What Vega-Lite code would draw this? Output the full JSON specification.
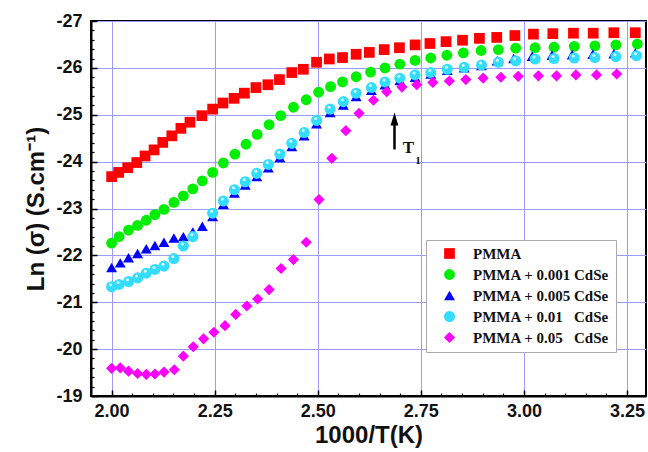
{
  "$schema": "https://vega.github.io/schema/vega-lite/v6.json",
  "width": 555,
  "height": 375,
  "autosize": {"type": "none"},
  "padding": {"left": 91, "top": 21, "right": 2, "bottom": 56},
  "background": "white",
  "config": {
    "view": {"stroke": "black", "strokeWidth": 2},
    "axis": {
      "labelFont": "Liberation Sans",
      "labelFontWeight": "bold",
      "labelFontSize": 18,
      "labelColor": "#111",
      "titleFont": "Liberation Sans",
      "titleFontWeight": "bold",
      "titleFontSize": 24,
      "titleColor": "#111",
      "domainColor": "black",
      "domainWidth": 2,
      "tickColor": "black",
      "tickWidth": 1.5,
      "gridColor": "#9a9aff",
      "gridOpacity": 1,
      "gridWidth": 1
    },
    "legend": {
      "orient": "none",
      "legendX": 335,
      "legendY": 219,
      "fillColor": "white",
      "strokeColor": "#aaaaaa",
      "padding": 6,
      "symbolOffset": 10,
      "labelOffset": 16,
      "labelFont": "Liberation Serif",
      "labelFontWeight": "bold",
      "labelFontSize": 15,
      "labelColor": "#111",
      "labelLimit": 300,
      "rowPadding": 5,
      "symbolSize": 100,
      "symbolStrokeWidth": 0
    }
  },
  "datasets": {
    "pts": [
      {"s": "PMMA", "x": 2.0, "y": -23.68},
      {"s": "PMMA", "x": 2.017, "y": -23.77},
      {"s": "PMMA", "x": 2.039, "y": -23.87},
      {"s": "PMMA", "x": 2.061, "y": -23.98},
      {"s": "PMMA", "x": 2.081, "y": -24.12},
      {"s": "PMMA", "x": 2.103, "y": -24.25},
      {"s": "PMMA", "x": 2.124, "y": -24.41},
      {"s": "PMMA", "x": 2.146, "y": -24.55},
      {"s": "PMMA", "x": 2.168, "y": -24.71},
      {"s": "PMMA", "x": 2.19, "y": -24.84},
      {"s": "PMMA", "x": 2.219, "y": -24.98},
      {"s": "PMMA", "x": 2.245, "y": -25.12},
      {"s": "PMMA", "x": 2.27, "y": -25.25},
      {"s": "PMMA", "x": 2.297, "y": -25.35},
      {"s": "PMMA", "x": 2.322, "y": -25.46},
      {"s": "PMMA", "x": 2.35, "y": -25.58},
      {"s": "PMMA", "x": 2.379, "y": -25.64},
      {"s": "PMMA", "x": 2.407, "y": -25.75},
      {"s": "PMMA", "x": 2.437, "y": -25.9},
      {"s": "PMMA", "x": 2.465, "y": -25.97},
      {"s": "PMMA", "x": 2.497, "y": -26.12},
      {"s": "PMMA", "x": 2.528, "y": -26.19},
      {"s": "PMMA", "x": 2.56, "y": -26.22},
      {"s": "PMMA", "x": 2.593, "y": -26.29},
      {"s": "PMMA", "x": 2.625, "y": -26.33},
      {"s": "PMMA", "x": 2.661, "y": -26.39},
      {"s": "PMMA", "x": 2.698, "y": -26.43},
      {"s": "PMMA", "x": 2.736, "y": -26.49},
      {"s": "PMMA", "x": 2.772, "y": -26.52},
      {"s": "PMMA", "x": 2.811, "y": -26.56},
      {"s": "PMMA", "x": 2.851, "y": -26.59},
      {"s": "PMMA", "x": 2.892, "y": -26.63},
      {"s": "PMMA", "x": 2.934, "y": -26.65},
      {"s": "PMMA", "x": 2.978, "y": -26.69},
      {"s": "PMMA", "x": 3.023, "y": -26.72},
      {"s": "PMMA", "x": 3.07, "y": -26.73},
      {"s": "PMMA", "x": 3.12, "y": -26.74},
      {"s": "PMMA", "x": 3.168, "y": -26.74},
      {"s": "PMMA", "x": 3.218, "y": -26.75},
      {"s": "PMMA", "x": 3.27, "y": -26.75},

      {"s": "PMMA + 0.001 CdSe", "x": 2.0, "y": -22.26},
      {"s": "PMMA + 0.001 CdSe", "x": 2.018, "y": -22.4},
      {"s": "PMMA + 0.001 CdSe", "x": 2.041, "y": -22.54},
      {"s": "PMMA + 0.001 CdSe", "x": 2.063, "y": -22.64},
      {"s": "PMMA + 0.001 CdSe", "x": 2.084, "y": -22.75},
      {"s": "PMMA + 0.001 CdSe", "x": 2.105, "y": -22.87},
      {"s": "PMMA + 0.001 CdSe", "x": 2.127, "y": -22.98},
      {"s": "PMMA + 0.001 CdSe", "x": 2.151, "y": -23.13},
      {"s": "PMMA + 0.001 CdSe", "x": 2.174, "y": -23.27},
      {"s": "PMMA + 0.001 CdSe", "x": 2.197, "y": -23.42},
      {"s": "PMMA + 0.001 CdSe", "x": 2.22, "y": -23.59},
      {"s": "PMMA + 0.001 CdSe", "x": 2.245, "y": -23.77},
      {"s": "PMMA + 0.001 CdSe", "x": 2.271, "y": -23.97},
      {"s": "PMMA + 0.001 CdSe", "x": 2.299, "y": -24.16},
      {"s": "PMMA + 0.001 CdSe", "x": 2.326, "y": -24.37},
      {"s": "PMMA + 0.001 CdSe", "x": 2.353, "y": -24.58},
      {"s": "PMMA + 0.001 CdSe", "x": 2.382, "y": -24.79},
      {"s": "PMMA + 0.001 CdSe", "x": 2.41, "y": -24.98},
      {"s": "PMMA + 0.001 CdSe", "x": 2.441, "y": -25.16},
      {"s": "PMMA + 0.001 CdSe", "x": 2.472, "y": -25.32},
      {"s": "PMMA + 0.001 CdSe", "x": 2.502, "y": -25.48},
      {"s": "PMMA + 0.001 CdSe", "x": 2.531, "y": -25.6},
      {"s": "PMMA + 0.001 CdSe", "x": 2.56, "y": -25.7},
      {"s": "PMMA + 0.001 CdSe", "x": 2.593, "y": -25.81},
      {"s": "PMMA + 0.001 CdSe", "x": 2.628, "y": -25.91},
      {"s": "PMMA + 0.001 CdSe", "x": 2.663, "y": -26.0},
      {"s": "PMMA + 0.001 CdSe", "x": 2.699, "y": -26.08},
      {"s": "PMMA + 0.001 CdSe", "x": 2.736, "y": -26.16},
      {"s": "PMMA + 0.001 CdSe", "x": 2.774, "y": -26.21},
      {"s": "PMMA + 0.001 CdSe", "x": 2.813, "y": -26.27},
      {"s": "PMMA + 0.001 CdSe", "x": 2.853, "y": -26.32},
      {"s": "PMMA + 0.001 CdSe", "x": 2.896, "y": -26.37},
      {"s": "PMMA + 0.001 CdSe", "x": 2.938, "y": -26.39},
      {"s": "PMMA + 0.001 CdSe", "x": 2.98, "y": -26.42},
      {"s": "PMMA + 0.001 CdSe", "x": 3.027, "y": -26.43},
      {"s": "PMMA + 0.001 CdSe", "x": 3.073, "y": -26.44},
      {"s": "PMMA + 0.001 CdSe", "x": 3.122, "y": -26.46},
      {"s": "PMMA + 0.001 CdSe", "x": 3.172, "y": -26.47},
      {"s": "PMMA + 0.001 CdSe", "x": 3.223, "y": -26.49},
      {"s": "PMMA + 0.001 CdSe", "x": 3.275, "y": -26.51},

      {"s": "PMMA + 0.005 CdSe", "x": 2.0, "y": -21.74},
      {"s": "PMMA + 0.005 CdSe", "x": 2.021, "y": -21.84},
      {"s": "PMMA + 0.005 CdSe", "x": 2.041, "y": -21.95},
      {"s": "PMMA + 0.005 CdSe", "x": 2.063, "y": -22.04},
      {"s": "PMMA + 0.005 CdSe", "x": 2.084, "y": -22.14},
      {"s": "PMMA + 0.005 CdSe", "x": 2.105, "y": -22.21},
      {"s": "PMMA + 0.005 CdSe", "x": 2.127, "y": -22.28},
      {"s": "PMMA + 0.005 CdSe", "x": 2.151, "y": -22.37},
      {"s": "PMMA + 0.005 CdSe", "x": 2.174, "y": -22.4},
      {"s": "PMMA + 0.005 CdSe", "x": 2.197, "y": -22.5},
      {"s": "PMMA + 0.005 CdSe", "x": 2.22, "y": -22.62},
      {"s": "PMMA + 0.005 CdSe", "x": 2.245, "y": -22.83},
      {"s": "PMMA + 0.005 CdSe", "x": 2.271, "y": -23.09},
      {"s": "PMMA + 0.005 CdSe", "x": 2.298, "y": -23.33},
      {"s": "PMMA + 0.005 CdSe", "x": 2.324, "y": -23.5},
      {"s": "PMMA + 0.005 CdSe", "x": 2.352, "y": -23.68},
      {"s": "PMMA + 0.005 CdSe", "x": 2.38, "y": -23.87},
      {"s": "PMMA + 0.005 CdSe", "x": 2.408, "y": -24.09},
      {"s": "PMMA + 0.005 CdSe", "x": 2.437, "y": -24.32},
      {"s": "PMMA + 0.005 CdSe", "x": 2.467, "y": -24.55},
      {"s": "PMMA + 0.005 CdSe", "x": 2.497, "y": -24.81},
      {"s": "PMMA + 0.005 CdSe", "x": 2.53, "y": -25.05},
      {"s": "PMMA + 0.005 CdSe", "x": 2.562, "y": -25.21},
      {"s": "PMMA + 0.005 CdSe", "x": 2.593, "y": -25.39},
      {"s": "PMMA + 0.005 CdSe", "x": 2.63, "y": -25.52},
      {"s": "PMMA + 0.005 CdSe", "x": 2.663, "y": -25.64},
      {"s": "PMMA + 0.005 CdSe", "x": 2.699, "y": -25.73},
      {"s": "PMMA + 0.005 CdSe", "x": 2.736, "y": -25.8},
      {"s": "PMMA + 0.005 CdSe", "x": 2.774, "y": -25.87},
      {"s": "PMMA + 0.005 CdSe", "x": 2.814, "y": -25.95},
      {"s": "PMMA + 0.005 CdSe", "x": 2.855, "y": -26.0},
      {"s": "PMMA + 0.005 CdSe", "x": 2.897, "y": -26.05},
      {"s": "PMMA + 0.005 CdSe", "x": 2.935, "y": -26.15},
      {"s": "PMMA + 0.005 CdSe", "x": 2.975, "y": -26.2},
      {"s": "PMMA + 0.005 CdSe", "x": 3.02, "y": -26.25},
      {"s": "PMMA + 0.005 CdSe", "x": 3.068, "y": -26.27},
      {"s": "PMMA + 0.005 CdSe", "x": 3.117, "y": -26.28},
      {"s": "PMMA + 0.005 CdSe", "x": 3.167, "y": -26.29},
      {"s": "PMMA + 0.005 CdSe", "x": 3.218, "y": -26.3},
      {"s": "PMMA + 0.005 CdSe", "x": 3.27, "y": -26.32},

      {"s": "PMMA + 0.01\u00a0\u00a0\u00a0CdSe", "x": 2.0, "y": -21.33},
      {"s": "PMMA + 0.01\u00a0\u00a0\u00a0CdSe", "x": 2.018, "y": -21.38},
      {"s": "PMMA + 0.01\u00a0\u00a0\u00a0CdSe", "x": 2.041, "y": -21.44},
      {"s": "PMMA + 0.01\u00a0\u00a0\u00a0CdSe", "x": 2.063, "y": -21.52},
      {"s": "PMMA + 0.01\u00a0\u00a0\u00a0CdSe", "x": 2.084, "y": -21.62},
      {"s": "PMMA + 0.01\u00a0\u00a0\u00a0CdSe", "x": 2.105, "y": -21.7},
      {"s": "PMMA + 0.01\u00a0\u00a0\u00a0CdSe", "x": 2.127, "y": -21.77},
      {"s": "PMMA + 0.01\u00a0\u00a0\u00a0CdSe", "x": 2.151, "y": -21.93},
      {"s": "PMMA + 0.01\u00a0\u00a0\u00a0CdSe", "x": 2.174, "y": -22.2},
      {"s": "PMMA + 0.01\u00a0\u00a0\u00a0CdSe", "x": 2.197, "y": -22.4},
      {"s": "PMMA + 0.01\u00a0\u00a0\u00a0CdSe", "x": 2.245, "y": -22.9},
      {"s": "PMMA + 0.01\u00a0\u00a0\u00a0CdSe", "x": 2.271, "y": -23.16},
      {"s": "PMMA + 0.01\u00a0\u00a0\u00a0CdSe", "x": 2.298, "y": -23.4},
      {"s": "PMMA + 0.01\u00a0\u00a0\u00a0CdSe", "x": 2.324, "y": -23.57},
      {"s": "PMMA + 0.01\u00a0\u00a0\u00a0CdSe", "x": 2.352, "y": -23.75},
      {"s": "PMMA + 0.01\u00a0\u00a0\u00a0CdSe", "x": 2.38, "y": -23.94},
      {"s": "PMMA + 0.01\u00a0\u00a0\u00a0CdSe", "x": 2.408, "y": -24.16},
      {"s": "PMMA + 0.01\u00a0\u00a0\u00a0CdSe", "x": 2.437, "y": -24.39},
      {"s": "PMMA + 0.01\u00a0\u00a0\u00a0CdSe", "x": 2.467, "y": -24.62},
      {"s": "PMMA + 0.01\u00a0\u00a0\u00a0CdSe", "x": 2.497, "y": -24.88},
      {"s": "PMMA + 0.01\u00a0\u00a0\u00a0CdSe", "x": 2.53, "y": -25.12},
      {"s": "PMMA + 0.01\u00a0\u00a0\u00a0CdSe", "x": 2.562, "y": -25.28},
      {"s": "PMMA + 0.01\u00a0\u00a0\u00a0CdSe", "x": 2.593, "y": -25.46},
      {"s": "PMMA + 0.01\u00a0\u00a0\u00a0CdSe", "x": 2.63, "y": -25.58},
      {"s": "PMMA + 0.01\u00a0\u00a0\u00a0CdSe", "x": 2.663, "y": -25.7},
      {"s": "PMMA + 0.01\u00a0\u00a0\u00a0CdSe", "x": 2.699, "y": -25.78},
      {"s": "PMMA + 0.01\u00a0\u00a0\u00a0CdSe", "x": 2.736, "y": -25.85},
      {"s": "PMMA + 0.01\u00a0\u00a0\u00a0CdSe", "x": 2.774, "y": -25.9},
      {"s": "PMMA + 0.01\u00a0\u00a0\u00a0CdSe", "x": 2.814, "y": -25.97},
      {"s": "PMMA + 0.01\u00a0\u00a0\u00a0CdSe", "x": 2.855, "y": -26.01},
      {"s": "PMMA + 0.01\u00a0\u00a0\u00a0CdSe", "x": 2.897, "y": -26.06},
      {"s": "PMMA + 0.01\u00a0\u00a0\u00a0CdSe", "x": 2.938, "y": -26.12},
      {"s": "PMMA + 0.01\u00a0\u00a0\u00a0CdSe", "x": 2.98, "y": -26.15},
      {"s": "PMMA + 0.01\u00a0\u00a0\u00a0CdSe", "x": 3.027, "y": -26.19},
      {"s": "PMMA + 0.01\u00a0\u00a0\u00a0CdSe", "x": 3.073, "y": -26.2},
      {"s": "PMMA + 0.01\u00a0\u00a0\u00a0CdSe", "x": 3.122, "y": -26.21},
      {"s": "PMMA + 0.01\u00a0\u00a0\u00a0CdSe", "x": 3.172, "y": -26.22},
      {"s": "PMMA + 0.01\u00a0\u00a0\u00a0CdSe", "x": 3.223, "y": -26.24},
      {"s": "PMMA + 0.01\u00a0\u00a0\u00a0CdSe", "x": 3.273, "y": -26.26},

      {"s": "PMMA + 0.05\u00a0\u00a0\u00a0CdSe", "x": 2.0, "y": -19.59},
      {"s": "PMMA + 0.05\u00a0\u00a0\u00a0CdSe", "x": 2.021, "y": -19.6},
      {"s": "PMMA + 0.05\u00a0\u00a0\u00a0CdSe", "x": 2.041, "y": -19.53},
      {"s": "PMMA + 0.05\u00a0\u00a0\u00a0CdSe", "x": 2.063, "y": -19.48},
      {"s": "PMMA + 0.05\u00a0\u00a0\u00a0CdSe", "x": 2.084, "y": -19.46},
      {"s": "PMMA + 0.05\u00a0\u00a0\u00a0CdSe", "x": 2.105, "y": -19.47},
      {"s": "PMMA + 0.05\u00a0\u00a0\u00a0CdSe", "x": 2.127, "y": -19.51},
      {"s": "PMMA + 0.05\u00a0\u00a0\u00a0CdSe", "x": 2.152, "y": -19.56},
      {"s": "PMMA + 0.05\u00a0\u00a0\u00a0CdSe", "x": 2.174, "y": -19.85},
      {"s": "PMMA + 0.05\u00a0\u00a0\u00a0CdSe", "x": 2.198, "y": -20.05},
      {"s": "PMMA + 0.05\u00a0\u00a0\u00a0CdSe", "x": 2.223, "y": -20.22},
      {"s": "PMMA + 0.05\u00a0\u00a0\u00a0CdSe", "x": 2.248, "y": -20.36},
      {"s": "PMMA + 0.05\u00a0\u00a0\u00a0CdSe", "x": 2.275, "y": -20.5},
      {"s": "PMMA + 0.05\u00a0\u00a0\u00a0CdSe", "x": 2.301, "y": -20.74},
      {"s": "PMMA + 0.05\u00a0\u00a0\u00a0CdSe", "x": 2.328, "y": -20.92},
      {"s": "PMMA + 0.05\u00a0\u00a0\u00a0CdSe", "x": 2.354, "y": -21.07},
      {"s": "PMMA + 0.05\u00a0\u00a0\u00a0CdSe", "x": 2.382, "y": -21.27},
      {"s": "PMMA + 0.05\u00a0\u00a0\u00a0CdSe", "x": 2.411, "y": -21.72},
      {"s": "PMMA + 0.05\u00a0\u00a0\u00a0CdSe", "x": 2.441, "y": -21.91},
      {"s": "PMMA + 0.05\u00a0\u00a0\u00a0CdSe", "x": 2.472, "y": -22.28},
      {"s": "PMMA + 0.05\u00a0\u00a0\u00a0CdSe", "x": 2.503, "y": -23.19},
      {"s": "PMMA + 0.05\u00a0\u00a0\u00a0CdSe", "x": 2.534, "y": -24.07},
      {"s": "PMMA + 0.05\u00a0\u00a0\u00a0CdSe", "x": 2.568, "y": -24.66},
      {"s": "PMMA + 0.05\u00a0\u00a0\u00a0CdSe", "x": 2.6, "y": -25.03},
      {"s": "PMMA + 0.05\u00a0\u00a0\u00a0CdSe", "x": 2.635, "y": -25.31},
      {"s": "PMMA + 0.05\u00a0\u00a0\u00a0CdSe", "x": 2.667, "y": -25.49},
      {"s": "PMMA + 0.05\u00a0\u00a0\u00a0CdSe", "x": 2.704, "y": -25.59},
      {"s": "PMMA + 0.05\u00a0\u00a0\u00a0CdSe", "x": 2.74, "y": -25.64},
      {"s": "PMMA + 0.05\u00a0\u00a0\u00a0CdSe", "x": 2.779, "y": -25.69},
      {"s": "PMMA + 0.05\u00a0\u00a0\u00a0CdSe", "x": 2.819, "y": -25.72},
      {"s": "PMMA + 0.05\u00a0\u00a0\u00a0CdSe", "x": 2.859, "y": -25.75},
      {"s": "PMMA + 0.05\u00a0\u00a0\u00a0CdSe", "x": 2.901, "y": -25.78},
      {"s": "PMMA + 0.05\u00a0\u00a0\u00a0CdSe", "x": 2.944, "y": -25.8},
      {"s": "PMMA + 0.05\u00a0\u00a0\u00a0CdSe", "x": 2.986, "y": -25.82},
      {"s": "PMMA + 0.05\u00a0\u00a0\u00a0CdSe", "x": 3.035, "y": -25.83},
      {"s": "PMMA + 0.05\u00a0\u00a0\u00a0CdSe", "x": 3.079, "y": -25.83},
      {"s": "PMMA + 0.05\u00a0\u00a0\u00a0CdSe", "x": 3.126, "y": -25.85},
      {"s": "PMMA + 0.05\u00a0\u00a0\u00a0CdSe", "x": 3.176, "y": -25.85},
      {"s": "PMMA + 0.05\u00a0\u00a0\u00a0CdSe", "x": 3.225, "y": -25.87}
    ],
    "arrow": [{"x": 2.686, "y": -24.26, "y2": -24.85}],
    "head": [{"x": 2.686, "y": -24.91}],
    "lab": [{"x": 2.72, "y": -24.3, "t": "T"}],
    "sub": [{"x": 2.743, "y": -24.01, "t": "1"}]
  },
  "layer": [
    {
      "data": {"name": "pts"},
      "mark": {"type": "point", "filled": true, "opacity": 1},
      "encoding": {
        "x": {
          "field": "x", "type": "quantitative",
          "scale": {"domain": [1.95, 3.296], "nice": false, "zero": false},
          "axis": {
            "orient": "bottom",
            "values": [2, 2.25, 2.5, 2.75, 3, 3.25],
            "format": ".2f",
            "grid": true,
            "tickSize": -6,
            "labelPadding": 12,
            "title": "1000/T(K)",
            "titlePadding": 3
          }
        },
        "y": {
          "field": "y", "type": "quantitative",
          "scale": {"domain": [-27, -19], "reverse": true, "nice": false, "zero": false},
          "axis": {
            "orient": "left",
            "values": [-27, -26, -25, -24, -23, -22, -21, -20, -19],
            "labelExpr": "'' + datum.value",
            "grid": true,
            "tickSize": -6,
            "labelPadding": 15,
            "title": "Ln (σ) (S.cm⁻¹)",
            "titlePadding": 7
          }
        },
        "color": {
          "field": "s", "type": "nominal",
          "scale": {
            "domain": ["PMMA", "PMMA + 0.001 CdSe", "PMMA + 0.005 CdSe", "PMMA + 0.01\u00a0\u00a0\u00a0CdSe", "PMMA + 0.05\u00a0\u00a0\u00a0CdSe"],
            "range": ["#ff0000", "#00ee00", "#0000ff", "#33ddff", "#ff00ff"]
          },
          "legend": {"title": null}
        },
        "shape": {
          "field": "s", "type": "nominal",
          "scale": {
            "domain": ["PMMA", "PMMA + 0.001 CdSe", "PMMA + 0.005 CdSe", "PMMA + 0.01\u00a0\u00a0\u00a0CdSe", "PMMA + 0.05\u00a0\u00a0\u00a0CdSe"],
            "range": ["square", "circle", "triangle-up", "circle", "diamond"]
          },
          "legend": {"title": null}
        },
        "size": {
          "field": "s", "type": "nominal",
          "scale": {
            "domain": ["PMMA", "PMMA + 0.001 CdSe", "PMMA + 0.005 CdSe", "PMMA + 0.01\u00a0\u00a0\u00a0CdSe", "PMMA + 0.05\u00a0\u00a0\u00a0CdSe"],
            "range": [115, 125, 150, 115, 160]
          },
          "legend": null
        }
      }
    },
    {
      "data": {"name": "pts"},
      "transform": [{"filter": {"field": "s", "equal": "PMMA + 0.01\u00a0\u00a0\u00a0CdSe"}}],
      "mark": {"type": "point", "filled": true, "color": "#f0ffff", "size": 9, "opacity": 0.9, "xOffset": -1, "yOffset": -2},
      "encoding": {
        "x": {
          "field": "x", "type": "quantitative",
          "axis": {
            "orient": "bottom",
            "values": [2.05, 2.1, 2.15, 2.2, 2.3, 2.35, 2.4, 2.45, 2.55, 2.6, 2.65, 2.7, 2.8, 2.85, 2.9, 2.95, 3.05, 3.1, 3.15, 3.2],
            "labels": false, "grid": false, "domain": false,
            "tickSize": -3, "tickWidth": 1.2, "title": null
          }
        },
        "y": {
          "field": "y", "type": "quantitative",
          "axis": {
            "orient": "left",
            "values": [-26.8, -26.6, -26.4, -26.2, -25.8, -25.6, -25.4, -25.2, -24.8, -24.6, -24.4, -24.2, -23.8, -23.6, -23.4, -23.2, -22.8, -22.6, -22.4, -22.2, -21.8, -21.6, -21.4, -21.2, -20.8, -20.6, -20.4, -20.2, -19.8, -19.6, -19.4, -19.2],
            "labels": false, "grid": false, "domain": false,
            "tickSize": -3, "tickWidth": 1.2, "title": null
          }
        }
      }
    },
    {
      "data": {"name": "arrow"},
      "mark": {"type": "rule", "color": "black", "strokeWidth": 2.5},
      "encoding": {
        "x": {"field": "x", "type": "quantitative", "axis": null},
        "y": {"field": "y", "type": "quantitative", "axis": null},
        "y2": {"field": "y2"}
      }
    },
    {
      "data": {"name": "head"},
      "mark": {"type": "point", "filled": true, "color": "black", "opacity": 1, "shape": "M0,-1L0.6,1L-0.6,1Z", "size": 169},
      "encoding": {
        "x": {"field": "x", "type": "quantitative", "axis": null},
        "y": {"field": "y", "type": "quantitative", "axis": null}
      }
    },
    {
      "data": {"name": "lab"},
      "mark": {"type": "text", "font": "Liberation Serif", "fontWeight": "bold", "fontSize": 17, "color": "#111", "align": "center", "baseline": "middle"},
      "encoding": {
        "x": {"field": "x", "type": "quantitative", "axis": null},
        "y": {"field": "y", "type": "quantitative", "axis": null},
        "text": {"field": "t"}
      }
    },
    {
      "data": {"name": "sub"},
      "mark": {"type": "text", "font": "Liberation Serif", "fontWeight": "bold", "fontSize": 11, "color": "#111", "align": "center", "baseline": "middle"},
      "encoding": {
        "x": {"field": "x", "type": "quantitative", "axis": null},
        "y": {"field": "y", "type": "quantitative", "axis": null},
        "text": {"field": "t"}
      }
    }
  ],
  "resolve": {"axis": {"x": "independent", "y": "independent"}}
}
